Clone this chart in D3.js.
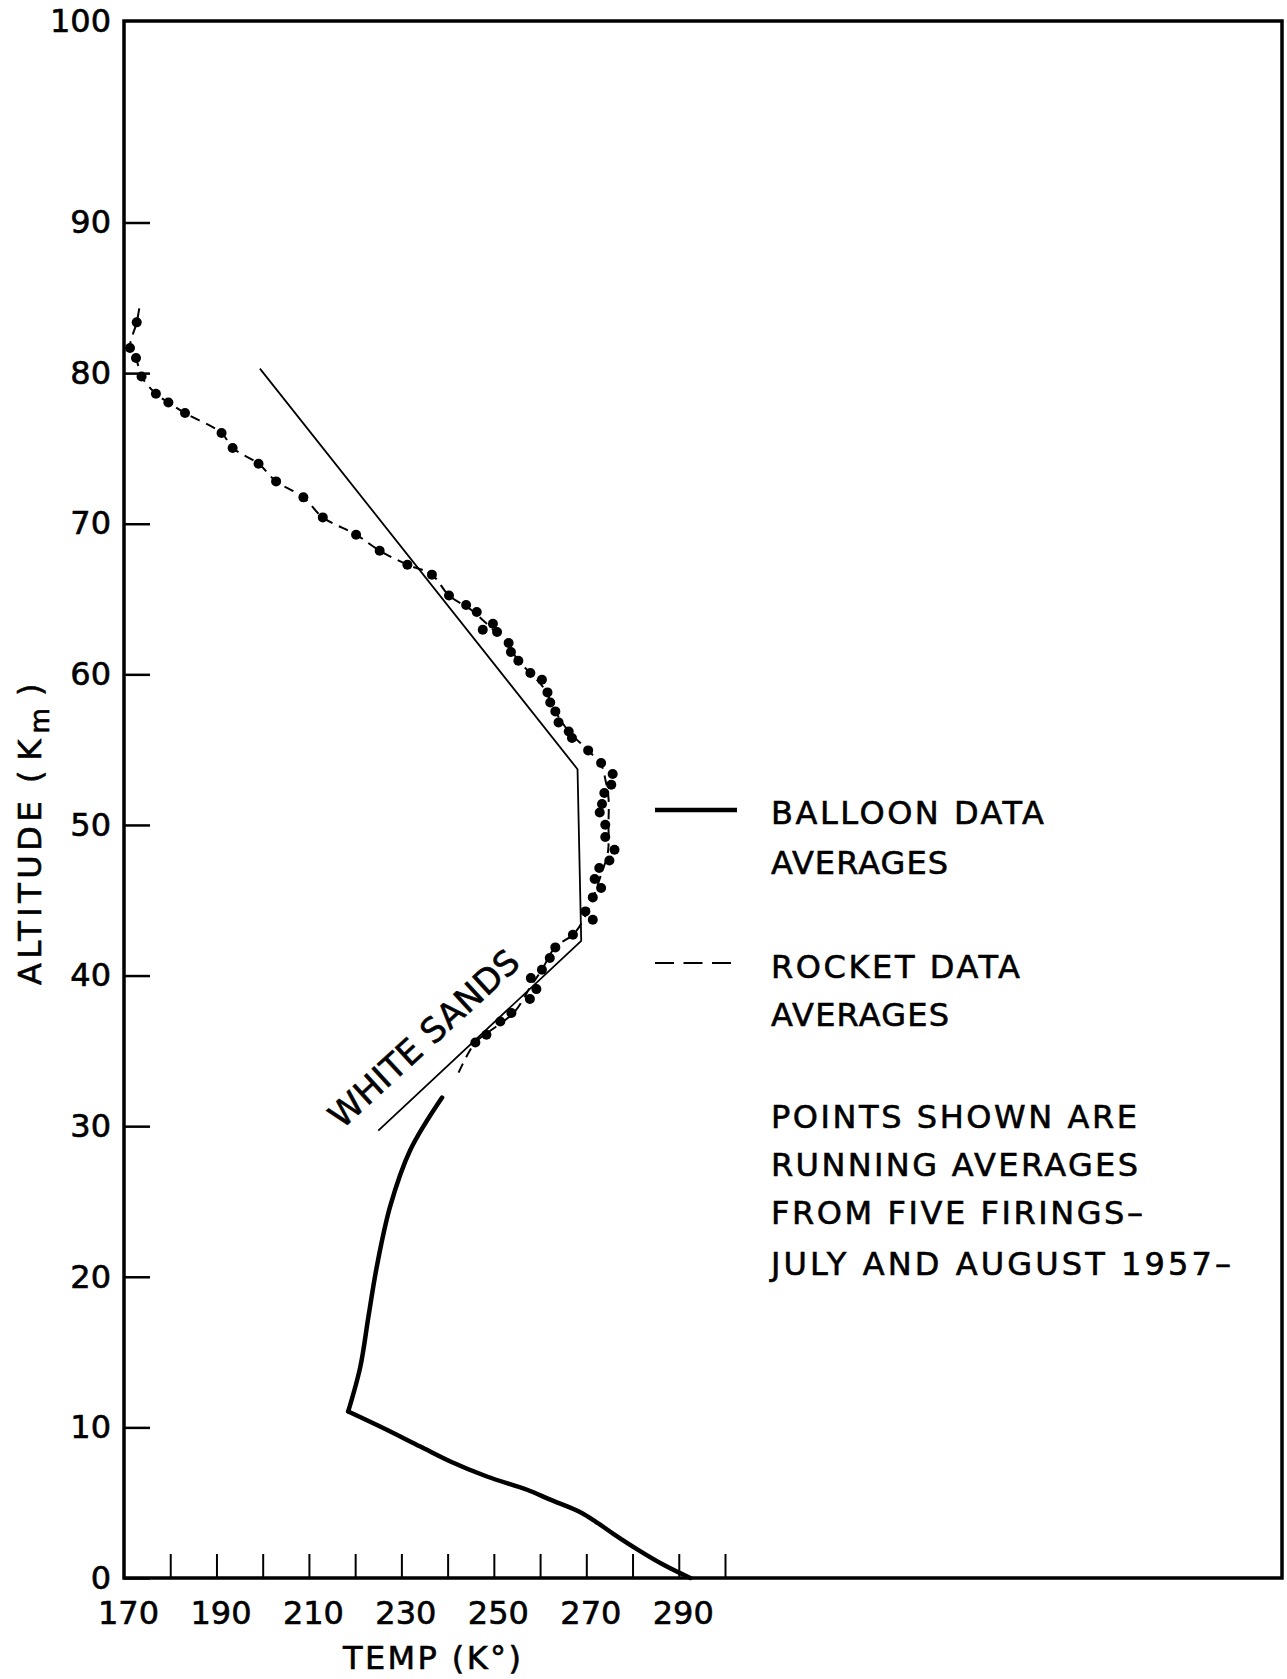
<!DOCTYPE html>
<html lang="en">
<head>
<meta charset="utf-8">
<title>Temperature vs Altitude - White Sands</title>
<script src="https://cdn.jsdelivr.net/npm/d3@7"></script>
<style>
body { margin: 0; background: #fff; }
text { font-family: "DejaVu Sans", sans-serif; fill: #000; stroke: #000; stroke-width: 0.6px; }
</style>
</head>
<body>
<script>

//DATA
var xTicks = [180, 190, 200, 210, 220, 230, 240, 250, 260, 270, 280, 290, 300];
var xTickLabels = [170, 190, 210, 230, 250, 270, 290];
var yTicks = [0, 10, 20, 30, 40, 50, 60, 70, 80, 90];
var yTickLabels = [0, 10, 20, 30, 40, 50, 60, 70, 80, 90, 100];

// balloon averages [temp K, altitude km], troposphere then stratosphere
var balloonLower = [[292.5, 0], [286.8, 0.86], [281.2, 1.87], [276, 2.9], [272, 3.75],
  [268.5, 4.4], [262.2, 5.2], [257.2, 5.86], [248.5, 6.74], [240.6, 7.74],
  [234.1, 8.73], [225.4, 10.06], [218.5, 11.06]];
var balloonUpper = [[218.5, 11.06], [221.1, 14.0], [222.9, 17.4], [224.7, 20.7],
  [227.6, 24.7], [231.9, 28.4], [238.8, 31.9]];

// white sands reference profile
var whiteSands = [[199.4, 80.3], [268.1, 53.7], [268.9, 42.3], [225, 29.7]];

// rocket averages (dashed line)
var rocketLine = [[173.3, 84.3], [172.75, 83.37], [171.3, 81.67], [172.6, 81.0], [173.8, 79.78],
  [176.9, 78.63], [179.6, 78.05], [183.2, 77.35], [191.1, 76.02], [193.5, 75.03], [199.1, 73.98],
  [202.9, 72.81], [208.8, 71.75], [213.0, 70.42], [220.2, 69.27], [225.3, 68.21], [231.3, 67.28],
  [236.6, 66.62], [240.3, 65.23], [245, 64.3], [249, 63.2], [253, 62], [255.3, 60.9],
  [257.9, 60.09], [261, 59], [263.3, 57.54], [266.2, 56.21], [270.4, 54.95], [273.2, 54.0],
  [274.2, 52.9], [274.8, 51.8], [274.8, 50], [274.8, 48.6], [274.5, 47.9], [273.3, 46.8],
  [271.5, 45.2], [269, 43.5], [267.1, 42.71], [263.3, 41.9], [260.4, 40.39], [258, 39.3],
  [254.5, 37.6], [250, 36.5], [246, 35.56], [242.3, 33.5]];

// running average points
var rocketPoints = [[172.75, 83.37], [171.3, 81.67], [172.6, 81.0], [173.8, 79.78], [176.9, 78.63],
  [179.6, 78.05], [183.2, 77.35], [191.1, 76.02], [193.5, 75.03], [199.1, 73.98], [202.9, 72.81],
  [208.8, 71.75], [213.0, 70.42], [220.2, 69.27], [225.3, 68.21], [231.3, 67.28], [236.6, 66.62],
  [240.3, 65.23], [244.0, 64.6], [246.3, 64.14], [249.8, 63.36], [247.6, 62.96], [250.7, 62.81],
  [253.2, 62.08], [253.7, 61.48], [255.3, 60.9], [257.9, 60.09], [260.4, 59.64], [261.6, 58.8],
  [262.2, 58.13], [263.3, 57.54], [264.0, 56.81], [266.2, 56.21], [266.9, 55.77], [270.4, 54.95],
  [273.2, 54.11], [275.7, 53.38], [275.4, 52.67], [273.9, 52.12], [273.4, 51.39], [272.9, 50.83],
  [274.1, 50.01], [274.1, 49.2], [276.1, 48.35], [275.0, 47.64], [272.8, 47.14], [271.8, 46.41],
  [273.2, 45.81], [271.4, 45.19], [269.8, 44.26], [271.4, 43.71], [267.1, 42.71], [263.3, 41.87],
  [262.1, 41.16], [260.4, 40.39], [258.0, 39.83], [259.2, 39.1], [257.8, 38.44], [253.8, 37.51],
  [251.4, 36.95], [248.4, 36.07], [246.0, 35.56]];

var legendBalloon = ["BALLOON DATA", "AVERAGES"];
var legendRocket = ["ROCKET DATA", "AVERAGES"];
var noteLines = ["POINTS SHOWN ARE", "RUNNING AVERAGES", "FROM FIVE FIRINGS\u2013", "JULY AND AUGUST 1957\u2013"];

//SVG
var w = 1287;
var h = 1679;
var svg = d3.select("body")
  .append("svg")
  .attr("width", w)
  .attr("height", h);

// altitude axis is stretched between 90 and 100
var x = d3.scaleLinear().domain([170, 300]).range([124, 725]);
var y = d3.scaleLinear().domain([0, 90, 100]).range([1578, 222.5, 21]);

//FRAME
svg.append("rect")
  .attr("x", 124).attr("y", 21)
  .attr("width", 1158).attr("height", 1557)
  .attr("fill", "none")
  .attr("stroke", "#000")
  .attr("stroke-width", 3.5);

//AXES - ticks point into the plot
var xTickG = svg.append("g")
  .attr("transform", "translate(0,1578)")
  .call(d3.axisBottom(x).tickValues(xTicks).tickSizeInner(-24).tickSizeOuter(0).tickFormat(""));
xTickG.select(".domain").remove();
xTickG.selectAll("line").attr("stroke-width", 2);

var xLabG = svg.append("g")
  .attr("transform", "translate(4,1578)")
  .call(d3.axisBottom(x).tickValues(xTickLabels).tickSize(0).tickPadding(23).tickFormat(d3.format("d")));
xLabG.select(".domain").remove();
xLabG.attr("font-size", 32).attr("font-family", "DejaVu Sans, sans-serif");

var yTickG = svg.append("g")
  .attr("transform", "translate(124,0)")
  .call(d3.axisLeft(y).tickValues(yTicks).tickSizeInner(-26).tickSizeOuter(0).tickFormat(""));
yTickG.select(".domain").remove();
yTickG.selectAll("line").attr("stroke-width", 2.5);

var yLabG = svg.append("g")
  .attr("transform", "translate(124,0)")
  .call(d3.axisLeft(y).tickValues(yTickLabels).tickSize(0).tickPadding(13).tickFormat(d3.format("d")));
yLabG.select(".domain").remove();
yLabG.attr("font-size", 32).attr("font-family", "DejaVu Sans, sans-serif");

//AXIS TITLES
svg.append("text")
  .attr("x", 432).attr("y", 1669)
  .attr("text-anchor", "middle")
  .attr("font-size", 32)
  .attr("textLength", 178)
  .attr("lengthAdjust", "spacing")
  .text("TEMP (K\u00b0)");

var yt = svg.append("text")
  .attr("transform", "translate(41,985) rotate(-90)")
  .attr("font-size", 32);
yt.append("tspan").attr("letter-spacing", 4.5).text("ALTITUDE");
yt.append("tspan").attr("dx", 14).text("(");
yt.append("tspan").attr("dx", 10).text("K");
yt.append("tspan").attr("dx", 6).attr("dy", 8).attr("font-size", 26).text("m");
yt.append("tspan").attr("dx", 12).attr("dy", -8).text(")");

//LINES
var line = d3.line()
  .x(function(d) { return x(d[0]); })
  .y(function(d) { return y(d[1]); });

var smooth = d3.line()
  .x(function(d) { return x(d[0]); })
  .y(function(d) { return y(d[1]); })
  .curve(d3.curveCatmullRom.alpha(0.5));

svg.append("path")
  .attr("d", line(whiteSands))
  .attr("fill", "none")
  .attr("stroke", "#000")
  .attr("stroke-width", 1.8);

[balloonLower, balloonUpper].forEach(function(seg) {
  svg.append("path")
    .attr("d", smooth(seg))
    .attr("fill", "none")
    .attr("stroke", "#000")
    .attr("stroke-width", 4.5)
    .attr("stroke-linejoin", "round")
    .attr("stroke-linecap", "round");
});

svg.append("path")
  .attr("d", smooth(rocketLine))
  .attr("fill", "none")
  .attr("stroke", "#000")
  .attr("stroke-width", 2)
  .attr("stroke-dasharray", "10,7");

svg.selectAll("circle.pt")
  .data(rocketPoints)
  .enter()
  .append("circle")
  .attr("class", "pt")
  .attr("cx", function(d) { return x(d[0]); })
  .attr("cy", function(d) { return y(d[1]); })
  .attr("r", 5)
  .attr("fill", "#000");

//WHITE SANDS LABEL
svg.append("text")
  .attr("transform", "translate(" + x(236.6) + "," + y(35.24) + ") rotate(-42.5)")
  .attr("text-anchor", "middle")
  .attr("font-size", 34)
  .attr("textLength", 244)
  .attr("lengthAdjust", "spacing")
  .text("WHITE  SANDS");

//LEGEND
svg.append("line")
  .attr("x1", 655).attr("x2", 737)
  .attr("y1", 810).attr("y2", 810)
  .attr("stroke", "#000").attr("stroke-width", 4.5);

svg.append("line")
  .attr("x1", 655).attr("x2", 731)
  .attr("y1", 963).attr("y2", 963)
  .attr("stroke", "#000").attr("stroke-width", 2)
  .attr("stroke-dasharray", "19,9.5");

var legendWidths = [273, 177, 249, 178, 366, 367, 372, 460];
var legendBase = [824, 874, 978, 1026, 1128, 1176, 1224, 1275];
var allLines = legendBalloon.concat(legendRocket).concat(noteLines);

svg.selectAll("text.leg")
  .data(allLines)
  .enter()
  .append("text")
  .attr("class", "leg")
  .attr("x", 771)
  .attr("y", function(d, i) { return legendBase[i]; })
  .attr("font-size", 32)
  .attr("textLength", function(d, i) { return legendWidths[i]; })
  .attr("lengthAdjust", "spacing")
  .text(function(d) { return d; });

</script>
</body>
</html>
